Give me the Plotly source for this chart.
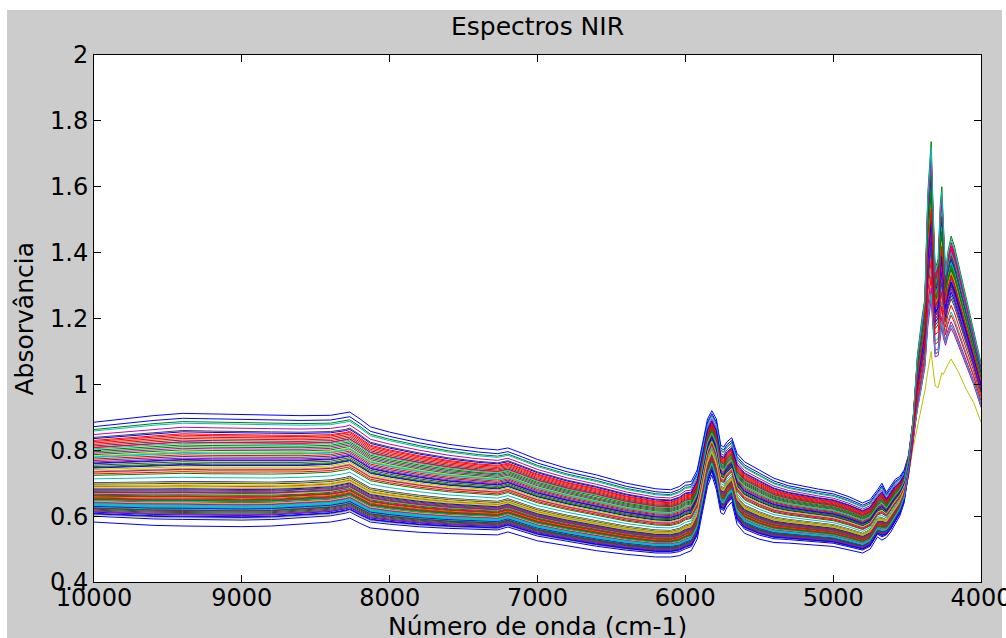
import plotly.graph_objects as go
import numpy as np

# Wavenumber grid (cm-1) and the two edge spectra of the sample set
wavenumber = [10000, 9800, 9600, 9400, 9200, 9000, 8800, 8600, 8400, 8300, 8270, 8200,
              8130, 8000, 7800, 7600, 7400, 7270, 7200, 7100, 7000, 6800, 6600, 6400,
              6200, 6100, 6040, 6000, 5960, 5920, 5880, 5850, 5821, 5790, 5760, 5740,
              5720, 5686, 5650, 5600, 5500, 5400, 5300, 5200, 5100, 5000, 4900, 4800,
              4750, 4700, 4670, 4640, 4610, 4580, 4550, 4520, 4490, 4460, 4430, 4400,
              4380, 4360, 4345, 4337, 4325, 4310, 4290, 4275, 4265, 4255, 4240, 4225,
              4202, 4180, 4150, 4100, 4050, 4000]

upper_edge = [0.885, 0.895, 0.905, 0.912, 0.910, 0.910, 0.907, 0.905, 0.906, 0.912, 0.916, 0.895,
              0.871, 0.855, 0.835, 0.818, 0.806, 0.801, 0.807, 0.790, 0.772, 0.745, 0.725, 0.700,
              0.683, 0.680, 0.690, 0.703, 0.705, 0.740, 0.830, 0.895, 0.920, 0.895, 0.815, 0.810,
              0.825, 0.838, 0.790, 0.765, 0.740, 0.715, 0.700, 0.690, 0.682, 0.675, 0.660, 0.640,
              0.650, 0.680, 0.700, 0.672, 0.694, 0.712, 0.720, 0.740, 0.790, 0.900, 1.090, 1.200,
              1.260, 1.580, 1.700, 1.737, 1.550, 1.350, 1.380, 1.550, 1.600, 1.480, 1.340, 1.400,
              1.450, 1.420, 1.360, 1.270, 1.165, 1.065]

lower_edge = [0.582, 0.576, 0.572, 0.570, 0.569, 0.568, 0.570, 0.575, 0.582, 0.590, 0.594, 0.578,
              0.564, 0.558, 0.551, 0.547, 0.544, 0.543, 0.552, 0.538, 0.525, 0.510, 0.495, 0.484,
              0.476, 0.476, 0.480, 0.488, 0.495, 0.530, 0.620, 0.690, 0.725, 0.680, 0.610, 0.605,
              0.625, 0.643, 0.575, 0.548, 0.530, 0.520, 0.518, 0.515, 0.512, 0.508, 0.498, 0.488,
              0.500, 0.537, 0.527, 0.535, 0.552, 0.575, 0.600, 0.640, 0.710, 0.800, 0.870, 0.930,
              0.980, 1.040, 1.080, 1.100, 1.050, 0.995, 0.990, 1.020, 1.035, 1.030, 1.045, 1.060,
              1.077, 1.060, 1.035, 0.985, 0.945, 0.885]

# share of the baseline level (vs. the C-H combination band) in each spectrum's position
baseline_weight = [1] * 56 + [0.6, 0.2] + [0] * 20

# absorbance of each sample near 9400 cm-1 and at the 4200 cm-1 band
level_9400 = [0.912, 0.655, 0.846, 0.631, 0.776, 0.668, 0.700, 0.570, 0.887, 0.643,
              0.620, 0.806, 0.686, 0.757, 0.604, 0.660, 0.836, 0.718, 0.638, 0.745,
              0.611, 0.897, 0.674, 0.626, 0.791, 0.650, 0.595, 0.860, 0.683, 0.730,
              0.617, 0.821, 0.662, 0.640, 0.765, 0.705, 0.608, 0.850, 0.629, 0.677,
              0.740, 0.646, 0.590, 0.811, 0.692, 0.622, 0.870, 0.657, 0.781, 0.600,
              0.665, 0.735, 0.634, 0.826, 0.695, 0.614, 0.755, 0.672, 0.841, 0.645,
              0.606, 0.796, 0.680, 0.624, 0.760, 0.652, 0.882, 0.636, 0.690, 0.770,
              0.598, 0.816, 0.659, 0.627, 0.742, 0.703, 0.618, 0.856, 0.648, 0.786,
              0.633, 0.671, 0.750, 0.831, 0.772, 0.801, 0.825, 0.793]

band_4200 = [1.40, 1.45, 1.33, 1.36, 1.30, 1.077, 1.38, 1.34, 1.42, 1.29,
             1.35, 1.31, 1.37, 1.27, 1.39, 1.33, 1.41, 1.22, 1.36, 1.32,
             1.38, 1.30, 1.35, 1.43, 1.28, 1.34, 1.37, 1.31, 1.36, 1.39,
             1.18, 1.33, 1.40, 1.35, 1.26, 1.38, 1.32, 1.42, 1.34, 1.17,
             1.37, 1.30, 1.36, 1.33, 1.41, 1.29, 1.38, 1.35, 1.31, 1.39,
             1.34, 1.21, 1.36, 1.40, 1.32, 1.37, 1.28, 1.35, 1.43, 1.33,
             1.19, 1.38, 1.30, 1.36, 1.34, 1.41, 1.18, 1.32, 1.39, 1.35,
             1.31, 1.37, 1.34, 1.40, 1.29, 1.36, 1.33, 1.38, 1.35, 1.24,
             1.37, 1.42, 1.34, 1.39, 1.31, 1.36, 1.33, 1.44]

# classic MATLAB line colour order
line_colors = ["#0000ff", "#008000", "#ff0000", "#00bfbf", "#bf00bf", "#bfbf00", "#404040"]

wn = np.array(wavenumber, dtype=float)
hi = np.array(upper_edge)
lo = np.array(lower_edge)
w = np.array(baseline_weight, dtype=float)
i_base = wavenumber.index(9400)
i_band = wavenumber.index(4202)

fig = go.Figure()
for k, (lvl, band) in enumerate(zip(level_9400, band_4200)):
    t = (lvl - lo[i_base]) / (hi[i_base] - lo[i_base])
    u = (band - lo[i_band]) / (hi[i_band] - lo[i_band])
    frac = w * t + (1 - w) * u
    absorb = lo + frac * (hi - lo)
    fig.add_trace(go.Scatter(x=wn, y=absorb, mode="lines",
                             line=dict(color=line_colors[k % 7], width=1),
                             hoverinfo="skip", showlegend=False))

FONT = "DejaVu Sans"
L, R, T, B = 94, 25, 55, 56
W, H = 1006, 638
pw, ph = W - L - R, H - T - B

axis_common = dict(ticks="inside", ticklen=7, tickwidth=1, tickcolor="#000000",
                   showline=True, linecolor="#000000", linewidth=1, mirror="ticks",
                   showgrid=False, zeroline=False, ticklabeloverflow="allow",
                   automargin=False,
                   tickfont=dict(family=FONT, size=24, color="#000000"))

fig.update_layout(
    width=W, height=H,
    margin=dict(l=L, r=R, t=T, b=B, pad=0, autoexpand=False),
    paper_bgcolor="#ffffff", plot_bgcolor="#ffffff",
    xaxis=dict(range=[10000, 4000], tickvals=[10000, 9000, 8000, 7000, 6000, 5000, 4000],
               ticktext=["10000", "9000", "8000", "7000", "6000", "5000", "4000"],
               ticklabelstandoff=-6, **axis_common),
    yaxis=dict(range=[0.4, 2.0], tickvals=[0.4, 0.6, 0.8, 1.0, 1.2, 1.4, 1.6, 1.8, 2.0],
               ticktext=["0.4", "0.6", "0.8", "1", "1.2", "1.4", "1.6", "1.8", "2"],
               **axis_common),
    shapes=[
        # grey figure window
        dict(type="rect", xref="paper", yref="paper", layer="below",
             x0=(7 - L) / pw, x1=(1002 - L) / pw, y0=-0.3, y1=(H - B - 10) / ph,
             fillcolor="#cccccc", line=dict(width=0)),
        # white axes area
        dict(type="rect", xref="paper", yref="paper", layer="below",
             x0=0, x1=1, y0=0, y1=1, fillcolor="#ffffff", line=dict(width=0)),
    ],
    annotations=[
        dict(text="Espectros NIR", xref="paper", yref="paper", x=0.5,
             y=(H - B - 27) / ph, xanchor="center", yanchor="middle", showarrow=False,
             font=dict(family=FONT, size=25, color="#000000")),
        dict(text="Número de onda (cm-1)", xref="paper", yref="paper", x=0.5,
             y=(H - B - 626) / ph, xanchor="center", yanchor="middle", showarrow=False,
             font=dict(family=FONT, size=25, color="#000000")),
        dict(text="Absorvância", xref="paper", yref="paper", x=(24 - L) / pw,
             y=0.5, xanchor="center", yanchor="middle", textangle=-90, showarrow=False,
             font=dict(family=FONT, size=25, color="#000000")),
    ],
)

fig.write_html("out.html")
